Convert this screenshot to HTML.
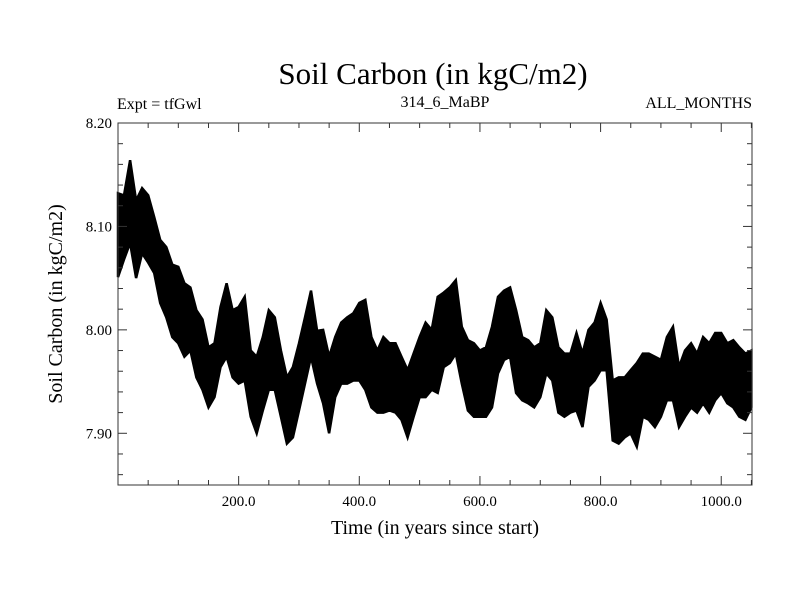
<!DOCTYPE html>
<html><head><meta charset="utf-8"><style>
html,body{margin:0;padding:0;background:#fff;}
svg text{font-family:"Liberation Serif",serif;fill:#000;}
</style></head><body>
<svg id="chart" width="800" height="600" viewBox="0 0 800 600" xmlns="http://www.w3.org/2000/svg">
<text x="433" y="84" font-size="31" text-anchor="middle">Soil Carbon (in kgC/m2)</text>
<text x="117" y="109" font-size="16">Expt = tfGwl</text>
<text x="445" y="107" font-size="16" text-anchor="middle">314_6_MaBP</text>
<text x="752" y="108" font-size="16" text-anchor="end">ALL_MONTHS</text>
<text transform="translate(62,304) rotate(-90)" font-size="20" text-anchor="middle">Soil Carbon (in kgC/m2)</text>
<text x="435" y="534" font-size="20" text-anchor="middle">Time (in years since start)</text>
<g id="marks"></g>
<g id="axes"></g>
</svg>
<script>
const years = [];
for (let y = 0; y <= 1050; y += 10) years.push(y);
const upperValues = [8.132,8.13,8.164,8.125,8.137,8.13,8.109,8.087,8.08,8.063,8.061,8.045,8.041,8.019,8.01,7.983,7.987,8.022,8.045,8.019,8.022,8.032,7.98,7.974,7.993,8.019,8.012,7.98,7.954,7.964,7.987,8.012,8.038,7.999,8.0,7.974,7.993,8.007,8.012,8.016,8.026,8.029,7.993,7.98,7.993,7.987,7.987,7.974,7.961,7.977,7.993,8.007,8.0,8.032,8.036,8.041,8.048,8.003,7.99,7.987,7.98,7.983,8.003,8.032,8.038,8.041,8.019,7.993,7.99,7.983,7.987,8.019,8.012,7.983,7.977,7.977,7.997,7.977,8.0,8.007,8.026,8.01,7.951,7.954,7.954,7.961,7.968,7.977,7.977,7.974,7.971,7.993,8.003,7.964,7.98,7.987,7.977,7.993,7.987,7.997,7.997,7.987,7.99,7.983,7.977,7.98];
const lowerValues = [8.051,8.068,8.084,8.05,8.074,8.065,8.055,8.026,8.012,7.993,7.987,7.974,7.98,7.954,7.942,7.925,7.935,7.964,7.974,7.954,7.948,7.951,7.916,7.9,7.922,7.942,7.942,7.916,7.89,7.896,7.922,7.948,7.974,7.948,7.929,7.9,7.935,7.948,7.948,7.951,7.951,7.942,7.925,7.92,7.92,7.922,7.92,7.913,7.896,7.916,7.935,7.935,7.942,7.939,7.964,7.968,7.977,7.948,7.922,7.916,7.916,7.916,7.925,7.958,7.971,7.974,7.939,7.932,7.929,7.925,7.935,7.958,7.951,7.92,7.916,7.92,7.922,7.906,7.945,7.951,7.961,7.961,7.893,7.89,7.896,7.9,7.887,7.916,7.913,7.906,7.916,7.932,7.932,7.906,7.916,7.925,7.92,7.929,7.92,7.932,7.939,7.929,7.925,7.916,7.913,7.925];
const yTickValues = [7.90, 8.00, 8.10, 8.20];
const yTickLabels = ["7.90", "8.00", "8.10", "8.20"];
const xTickValues = [200, 400, 600, 800, 1000];
const xTickLabels = ["200.0", "400.0", "600.0", "800.0", "1000.0"];

const L = 118, R = 752, T = 123, B = 485;
const xMin = 0, xMax = 1051, yMin = 7.85, yMax = 8.20;
const sx = v => L + (v - xMin) / (xMax - xMin) * (R - L);
const sy = v => B - (v - yMin) / (yMax - yMin) * (B - T);
const NS = "http://www.w3.org/2000/svg";
const marks = document.getElementById('marks');
const axes = document.getElementById('axes');

let pts = [];
for (let i = 0; i < years.length; i++) pts.push(sx(Math.min(years[i], xMax)).toFixed(1) + ',' + sy(upperValues[i]).toFixed(1));
for (let i = years.length - 1; i >= 0; i--) pts.push(sx(Math.min(years[i], xMax)).toFixed(1) + ',' + sy(lowerValues[i]).toFixed(1));
const poly = document.createElementNS(NS, 'polygon');


poly.setAttribute('points', pts.join(' '));
poly.setAttribute('fill', '#000');
poly.setAttribute('stroke', '#000');
poly.setAttribute('stroke-width', '2.5');
poly.setAttribute('stroke-linejoin', 'miter');
marks.appendChild(poly);

function line(x1, y1, x2, y2, name) {
  const l = document.createElementNS(NS, 'line');
  l.setAttribute('x1', x1); l.setAttribute('y1', y1);
  l.setAttribute('x2', x2); l.setAttribute('y2', y2);
  l.setAttribute('stroke', '#333'); l.setAttribute('stroke-width', '1');
  
  
  axes.appendChild(l);
}
const frame = document.createElementNS(NS, 'rect');
frame.setAttribute('x', L); frame.setAttribute('y', T);
frame.setAttribute('width', R - L); frame.setAttribute('height', B - T);
frame.setAttribute('fill', 'none'); frame.setAttribute('stroke', '#333');


axes.appendChild(frame);

for (let v = 50; v <= xMax; v += 50) {
  const x = sx(v); const len = (v % 200 === 0) ? 9 : 5;
  line(x, B, x, B - len, 'x-tick');
  line(x, T, x, T + len, 'x-tick-top');
}
for (let k = 0; k <= 17; k++) {
  const v = 7.86 + k * 0.02; const y = sy(v);
  const major = Math.abs(Math.round(v * 100) % 10) === 0;
  const len = major ? 9 : 5;
  line(L, y, L + len, y, 'y-tick');
  line(R, y, R - len, y, 'y-tick-right');
}
yTickValues.forEach((v, i) => {
  const t = document.createElementNS(NS, 'text');
  t.setAttribute('x', 112); t.setAttribute('y', sy(v) + 5);
  t.setAttribute('font-size', '15'); t.setAttribute('text-anchor', 'end');
  
  
  t.textContent = yTickLabels[i];
  axes.appendChild(t);
});
xTickValues.forEach((v, i) => {
  const t = document.createElementNS(NS, 'text');
  t.setAttribute('x', sx(v)); t.setAttribute('y', 506);
  t.setAttribute('font-size', '15'); t.setAttribute('text-anchor', 'middle');
  
  
  t.textContent = xTickLabels[i];
  axes.appendChild(t);
});
</script>
</body></html>
